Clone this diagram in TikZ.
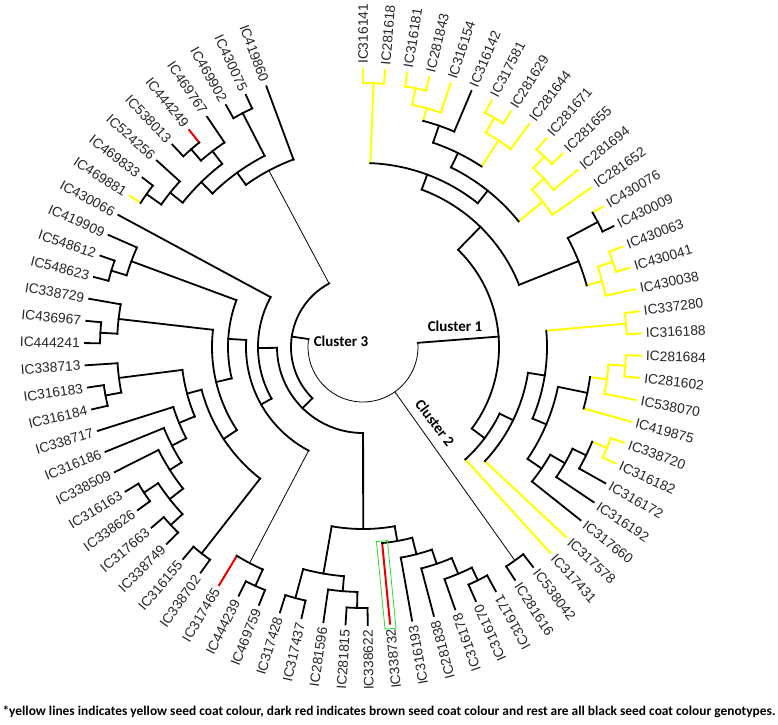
\documentclass[tikz,border=0pt]{standalone}
\usepackage{fontspec}
\newfontfamily\lblfont{Liberation Sans}
\newfontfamily\capfont{Carlito}
\usetikzlibrary{calc}

\definecolor{seedyellow}{RGB}{255,255,0}
\definecolor{seedred}{RGB}{235,0,0}
\definecolor{boxgreen}{RGB}{40,220,40}

% storage for angles and branch styles
\newcommand\dgset[3]{\expandafter\xdef\csname dg:#1:#2\endcsname{#3}}
\newcommand\dgget[2]{\csname dg:#1:#2\endcsname}

% one genotype: index, label, branch style
\newcommand\gtip[3]{%
  \pgfmathsetmacro\dgL{90-(#1-1)*4.59}%
  \dgset{a}{L#1}{\dgL}\dgset{s}{L#1}{#3}%
  \coordinate (L#1) at (\dgL:278);
  \ifdim\dgL pt<-59pt
    \pgfmathsetmacro\dgR{\dgL+180}%
    \node[lbl, anchor=east, rotate=\dgR] (t#1) at (\dgL:283) {#2};
  \else
    \node[lbl, anchor=west, rotate=\dgL] (t#1) at (\dgL:283) {#2};
  \fi
}

% branch of a node down to radius #2
\newcommand\branch[2]{%
  \edef\dgS{\dgget{a}{#1}}%
  \coordinate (#1-b) at (\dgS:#2);
  \edef\dgdraw{\noexpand\draw[\dgget{s}{#1}]}\dgdraw (#1) -- (#1-b);
}

% clade: name, radius, child, child, arc style, own branch style
\newcommand\clade[6]{%
  \edef\dgA{\dgget{a}{#3}}\edef\dgB{\dgget{a}{#4}}%
  \pgfmathsetmacro\dgM{(\dgA+\dgB)/2}%
  \branch{#3}{#2}\branch{#4}{#2}%
  \draw[#5] (#3-b) arc[start angle=\dgA, end angle=\dgB, radius=#2pt];
  \coordinate (#1) at (\dgM:#2);
  \dgset{a}{#1}{\dgM}\dgset{s}{#1}{#6}%
}

\begin{document}
\begin{tikzpicture}[
  x=1pt, y=1pt,
  kline/.style={line width=1.8pt, black, line cap=rect},
  yline/.style={line width=2pt, seedyellow, line cap=rect},
  rline/.style={line width=2pt, seedred, line cap=rect},
  tline/.style={line width=0.8pt, black},
  lbl/.style={font=\lblfont\fontsize{13.8}{14}\selectfont, text=black!85, inner sep=0pt},
  clab/.style={font=\capfont\bfseries\fontsize{15}{17}\selectfont, inner sep=0pt}
]
  \useasboundingbox (-363,-377) rectangle (415,347);

  % genotypes, clockwise from the top
  \foreach \i/\n/\s in {1/IC316141/yline, 2/IC281618/yline, 3/IC316181/yline,
    4/IC281843/yline, 5/IC316154/yline, 6/IC316142/kline, 7/IC317581/yline,
    8/IC281629/yline, 9/IC281644/yline, 10/IC281671/yline, 11/IC281655/yline,
    12/IC281694/yline, 13/IC281652/yline, 14/IC430076/yline, 15/IC430009/kline,
    16/IC430063/yline, 17/IC430041/yline, 18/IC430038/yline, 19/IC337280/yline,
    20/IC316188/yline, 21/IC281684/yline, 22/IC281602/yline, 23/IC538070/yline,
    24/IC419875/yline, 25/IC338720/yline, 26/IC316182/yline, 27/IC316172/kline,
    28/IC316192/kline, 29/IC317660/kline, 30/IC317578/yline, 31/IC317431/yline,
    32/IC538042/kline, 33/IC281616/kline, 34/IC316171/kline, 35/IC316170/kline,
    36/IC316178/kline, 37/IC281838/kline, 38/IC316193/kline, 39/IC338732/rline,
    40/IC338622/kline, 41/IC281815/kline, 42/IC281596/kline, 43/IC317437/kline,
    44/IC317428/kline, 45/IC469759/kline, 46/IC444239/kline, 47/IC317465/rline,
    48/IC338702/kline, 49/IC316155/kline, 50/IC338749/kline, 51/IC317663/kline,
    52/IC338626/kline, 53/IC316163/kline, 54/IC338509/kline, 55/IC316186/kline,
    56/IC338717/kline, 57/IC316184/kline, 58/IC316183/kline, 59/IC338713/kline,
    60/IC444241/kline, 61/IC436967/kline, 62/IC338729/kline, 63/IC548623/kline,
    64/IC548612/kline, 65/IC419909/kline, 66/IC430066/kline, 67/IC469881/yline,
    68/IC469833/kline, 69/IC524256/kline, 70/IC538013/kline, 71/IC444249/rline,
    72/IC469767/kline, 73/IC469902/kline, 74/IC430075/kline, 75/IC419860/kline}
    \gtip{\i}{\n}{\s};

  % Cluster 1, upper part
  \clade{N1}{264}{L1}{L2}{yline}{yline}
  \clade{N2}{264}{L3}{L4}{yline}{yline}
  \clade{N3}{247}{N2}{L5}{yline}{yline}
  \clade{N4}{234}{N3}{L6}{kline}{kline}
  \clade{N5}{264}{L7}{L8}{yline}{yline}
  \clade{N6}{247}{N5}{L9}{yline}{yline}
  \clade{N7}{216}{N4}{N6}{kline}{kline}
  \clade{N8}{263}{L10}{L11}{yline}{yline}
  \clade{N9}{247}{N8}{L12}{yline}{yline}
  \clade{N10}{231}{N9}{L13}{yline}{yline}
  \clade{N11}{200}{N7}{N10}{kline}{kline}
  \clade{N12}{184}{N1}{N11}{kline}{kline}
  \clade{M1}{266}{L14}{L15}{kline}{kline}
  \clade{M2}{264}{L16}{L17}{yline}{yline}
  \clade{M3}{248}{M2}{L18}{yline}{yline}
  \clade{M4}{232}{M1}{M3}{kline}{kline}
  \clade{M5}{168}{N12}{M4}{kline}{kline}

  % Cluster 1, lower part
  \clade{Y1}{264}{L19}{L20}{yline}{yline}
  \clade{Y3}{263}{L21}{L22}{yline}{yline}
  \clade{Y4}{246}{Y3}{L23}{yline}{yline}
  \clade{Y5}{229}{Y4}{L24}{kline}{kline}
  \clade{Y7}{264}{L25}{L26}{yline}{yline}
  \clade{Y8}{248}{Y7}{L27}{kline}{kline}
  \clade{Y9}{233}{Y8}{L28}{kline}{kline}
  \clade{Y10}{216}{Y9}{L29}{kline}{kline}
  \clade{Y6}{199}{Y5}{Y10}{kline}{kline}
  \clade{Z}{184}{Y1}{Y6}{kline}{kline}
  \clade{X3}{167}{Z}{L30}{kline}{kline}
  \clade{X2}{152}{X3}{L31}{kline}{kline}
  \clade{C1}{136}{M5}{X2}{kline}{kline}

  % Cluster 2
  \clade{C2}{262}{L32}{L33}{kline}{tline}

  % bottom group
  \clade{B5}{260}{L34}{L35}{kline}{kline}
  \clade{B4}{246}{B5}{L36}{kline}{kline}
  \clade{B3}{229}{B4}{L37}{kline}{kline}
  \clade{B2}{214}{B3}{L38}{kline}{kline}
  \clade{B1}{197}{B2}{L39}{kline}{kline}
  \clade{B9}{261}{L40}{L41}{kline}{kline}
  \clade{B8}{245}{B9}{L42}{kline}{kline}
  \clade{B7}{260}{L43}{L44}{kline}{kline}
  \clade{B6}{230}{B7}{B8}{kline}{kline}
  \clade{B0}{182}{B6}{B1}{kline}{kline}

  % IC469759 to IC317465
  \clade{G46}{262}{L45}{L46}{kline}{kline}
  \clade{G45}{244}{G46}{L47}{kline}{tline}

  % left group
  \clade{F1}{263}{L63}{L64}{kline}{kline}
  \clade{F2}{247}{F1}{L65}{kline}{kline}
  \clade{F4}{263}{L60}{L61}{kline}{kline}
  \clade{F5}{246}{F4}{L62}{kline}{kline}
  \clade{F6}{262}{L57}{L58}{kline}{kline}
  \clade{F7}{246}{F6}{L59}{kline}{kline}
  \clade{F10}{263}{L52}{L53}{kline}{kline}
  \clade{F12}{262}{L50}{L51}{kline}{kline}
  \clade{F11}{246}{F10}{F12}{kline}{kline}
  \clade{F13}{229}{L54}{F11}{kline}{kline}
  \clade{F14}{215}{L55}{F13}{kline}{kline}
  \clade{F9}{199}{L56}{F14}{kline}{kline}
  \clade{F8}{182}{F7}{F9}{kline}{kline}
  \clade{F16}{262}{L48}{L49}{kline}{kline}
  \clade{F17}{167}{F8}{F16}{kline}{kline}
  \clade{F15}{151}{F5}{F17}{kline}{kline}
  \clade{F18}{135}{F2}{F15}{kline}{kline}
  \clade{G2}{117}{F18}{G45}{kline}{kline}
  \clade{G1}{105}{L66}{G2}{kline}{kline}
  \clade{G0}{86}{G1}{B0}{kline}{kline}

  % upper left group
  \clade{E1}{263}{L73}{L74}{kline}{kline}
  \clade{E4}{262}{L70}{L71}{kline}{kline}
  \clade{E5}{247}{E4}{L72}{kline}{kline}
  \clade{E7}{265}{L67}{L68}{kline}{kline}
  \clade{E6}{247}{E7}{L69}{kline}{kline}
  \clade{E3}{231}{E5}{E6}{kline}{kline}
  \clade{E2}{215}{E1}{E3}{kline}{kline}
  \clade{E0}{200}{E2}{L75}{kline}{tline}
  \clade{K0}{72}{E0}{G0}{kline}{kline}

  % root circle
  \branch{C1}{55}\branch{C2}{55}\branch{K0}{55}
  \draw[tline] (C1-b) arc[start angle=\dgget{a}{C1}, end angle=\dgget{a}{K0}, radius=55pt];

  % highlighted genotype
  \node[draw=boxgreen, line width=0.8pt, minimum width=88pt, minimum height=11pt,
    inner sep=0pt, rotate=-84.42] (hbox) at (-84.42:239) {};

  % cluster names
  \node[clab] (c1lab) at (92,21) {Cluster 1};
  \node[clab, rotate=-53] (c2lab) at (72,-76) {Cluster 2};
  \node[clab] (c3lab) at (-22,6) {Cluster 3};

  % note
  \node[font=\capfont\bfseries\fontsize{13.4}{15}\selectfont, inner sep=0pt] (note) at (26,-365)
    {*yellow lines indicates yellow seed coat colour, dark red indicates brown seed coat colour and rest are all black seed coat colour genotypes.};
\end{tikzpicture}
\end{document}
